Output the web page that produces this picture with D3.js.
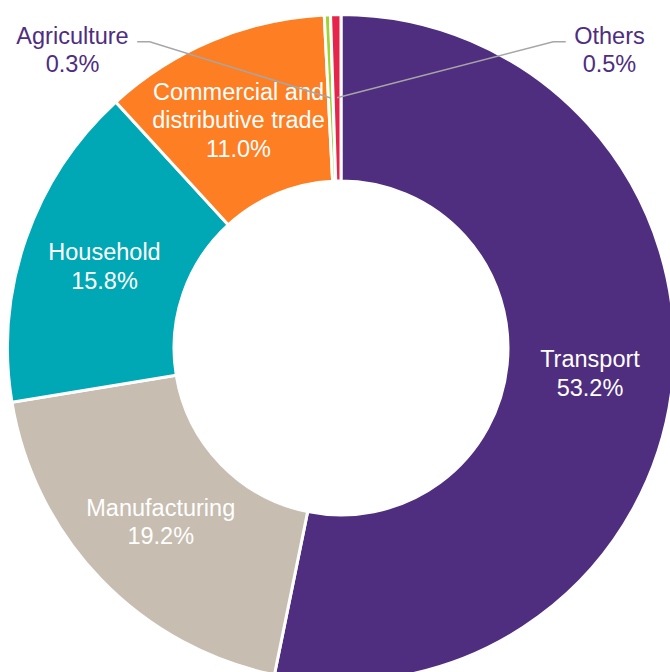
<!DOCTYPE html>
<html>
<head>
<meta charset="utf-8">
<script src="https://cdn.jsdelivr.net/npm/d3@7"></script>
<style>
  html, body { margin: 0; padding: 0; background: #ffffff; }
  svg { display: block; }
  text { font-family: "Liberation Sans", Arial, sans-serif; }
</style>
</head>
<body>
<svg id="chart" width="670" height="672"></svg>
<script>
// Share of final energy consumption by sector (%)
const categories = ["Transport", "Manufacturing", "Household",
  "Commercial and distributive trade", "Agriculture", "Others"];
const shares = [53.2, 19.2, 15.8, 11.0, 0.3, 0.5];
const labelLines = [["Transport"], ["Manufacturing"], ["Household"],
  ["Commercial and", "distributive trade"], ["Agriculture"], ["Others"]];
const sliceColors = ["#4f2d7f", "#c7bdb0", "#00a7b5", "#fd7e23", "#9fd32e", "#e6254a"];
// slices whose labels sit outside the ring with a leader line (-1 left, +1 right)
const outsideSide = [0, 0, 0, 0, -1, 1];

const W = 670, H = 672;
const cx = 341, cy = 348;
const outerR = 333.5, innerR = 167;
const fontSize = 23.5, lineH = 28.5;
const labelPurple = "#4f2d7f";

const svg = d3.select("#chart");
const g = svg.append("g").attr("transform", `translate(${cx},${cy})`);

const data = categories.map((c, i) => ({
  name: c, value: shares[i], lines: labelLines[i],
  color: sliceColors[i], side: outsideSide[i]
}));

const pie = d3.pie().sort(null).value(d => d.value).startAngle(0).endAngle(2 * Math.PI);
const arc = d3.arc().innerRadius(innerR).outerRadius(outerR);
const arcs = pie(data);

g.selectAll("path.slice")
  .data(arcs)
  .join("path")
  .attr("class", "slice")
  .attr("d", arc)
  .attr("fill", d => d.data.color)
  .attr("stroke", "#ffffff")
  .attr("stroke-width", 3)
  .attr("stroke-linejoin", "miter");

function fmt(v) { return v.toFixed(1) + "%"; }

// inside labels at arc centroids (multi-line label shifted slightly to fit its slice)
arcs.filter(a => a.data.side === 0).forEach(a => {
  const [x, y] = arc.centroid(a);
  const lines = a.data.lines.concat([fmt(a.data.value)]);
  const multi = a.data.lines.length > 1;
  const nx = multi ? -6 : 0, ny = multi ? 3 : 0;
  const top = y + ny - (lines.length - 1) * lineH / 2 + fontSize * 0.35;
  const t = g.append("text")
    .attr("text-anchor", "middle")
    .attr("fill", "#ffffff")
    .attr("font-size", fontSize);
  lines.forEach((ln, k) => {
    t.append("tspan").attr("x", x + nx).attr("y", top + k * lineH).text(ln);
  });
});

// outside labels with elbow leader lines
arcs.filter(a => a.data.side !== 0).forEach(a => {
  const side = a.data.side;
  const [px, py] = arc.centroid(a);
  const tx = side * 268.5;
  const ty = -298;
  const lines = a.data.lines.concat([fmt(a.data.value)]);
  const t = g.append("text")
    .attr("text-anchor", "middle")
    .attr("fill", labelPurple)
    .attr("font-size", fontSize);
  const top = ty - (lines.length - 1) * lineH / 2 + fontSize * 0.35;
  lines.forEach((ln, k) => {
    t.append("tspan").attr("x", tx).attr("y", top + k * lineH).text(ln);
  });
  const halfW = t.select("tspan").node().getComputedTextLength() / 2;
  const startX = tx - side * (halfW + 8.5);
  const elbowX = startX - side * 12.5;
  const ly = ty - 8.3;
  g.append("polyline")
    .attr("points", [[startX, ly], [elbowX, ly], [px, py]].map(p => p.join(",")).join(" "))
    .attr("fill", "none")
    .attr("stroke", "#a6a6a6")
    .attr("stroke-width", 1.5);
});
</script>
</body>
</html>
